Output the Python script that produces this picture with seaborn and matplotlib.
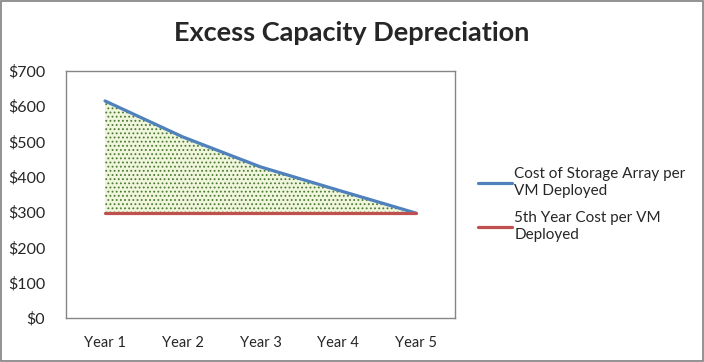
import matplotlib
matplotlib.use("Agg")
import matplotlib.pyplot as plt
import seaborn as sns
import pandas as pd
import numpy as np
from matplotlib.patches import Rectangle
from matplotlib.lines import Line2D

years = ["Year 1", "Year 2", "Year 3", "Year 4", "Year 5"]
storage_cost = [615, 513, 428, 362, 297]
fifth_year_cost = [297, 297, 297, 297, 297]
yticks = [0, 100, 200, 300, 400, 500, 600, 700]
series_names = ["Cost of Storage Array per\nVM Deployed", "5th Year Cost per VM\nDeployed"]

sns.set_theme(style="white")
plt.rcParams['font.family'] = ['Lato', 'DejaVu Sans']
plt.rcParams['hatch.linewidth'] = 0.8

x = np.arange(len(years))
df = pd.DataFrame({
    "x": np.concatenate([x, x]),
    "value": storage_cost + fifth_year_cost,
    "series": [series_names[0]] * len(years) + [series_names[1]] * len(years),
})

fig = plt.figure(figsize=(7.04, 3.62), dpi=100)
ax = fig.add_axes([0.094, 0.122, 0.552, 0.682])

ax.fill_between(x, storage_cost, fifth_year_cost, facecolor="#f0f6dc",
                hatch="....", edgecolor="#4d7a35", linewidth=0)
sns.lineplot(data=df, x="x", y="value", hue="series",
             palette=["#4F81BD", "#C0504D"], linewidth=2.3, ax=ax, legend=False)

ax.set_xlim(-0.5, len(years) - 0.5)
ax.set_ylim(0, 700)
ax.set_xticks(x)
ax.set_xticklabels(years, fontsize=10.5)
ax.set_yticks(yticks)
ax.set_yticklabels([f"${v}" for v in yticks], fontsize=11.5)
ax.set_xlabel("")
ax.set_ylabel("")
ax.tick_params(axis="y", length=0, pad=15)
ax.tick_params(axis="x", length=0, pad=13)
for s in ax.spines.values():
    s.set_color("#868686")
    s.set_linewidth(1)

fig.suptitle("Excess Capacity Depreciation", fontsize=19.5, fontweight="bold",
             y=0.91, x=0.5, va="center")

handles = [Line2D([], [], color="#4F81BD", lw=2.3), Line2D([], [], color="#C0504D", lw=2.3)]
leg = fig.legend(handles, series_names, loc="center left", bbox_to_anchor=(0.66, 0.435),
                 frameon=False, fontsize=11, handlelength=2.2, handletextpad=0.15,
                 labelspacing=0.8)
for t in leg.get_texts():
    t.set_linespacing(1.35)

fig.patches.append(Rectangle((0.001, 0.002), 0.997, 0.995, transform=fig.transFigure,
                             fill=False, edgecolor="#7f7f7f", linewidth=1.2))

fig.savefig("out.png", dpi=100)
